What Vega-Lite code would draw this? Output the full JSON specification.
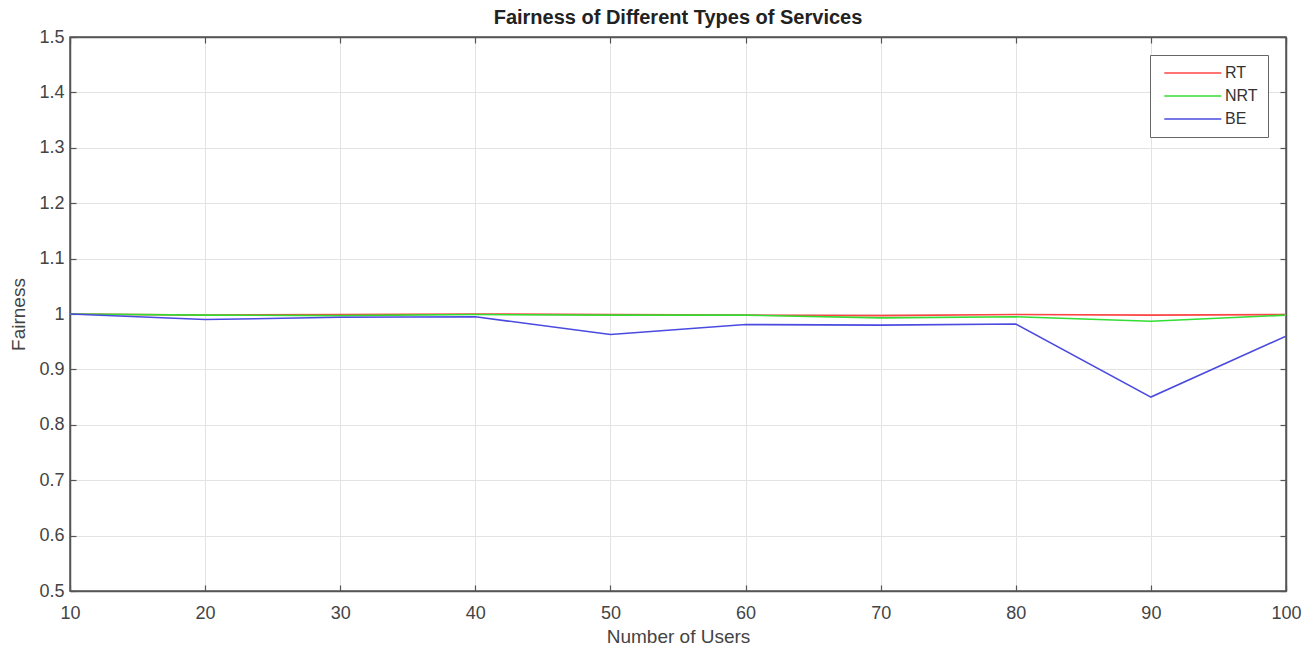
{
  "$schema": "https://vega.github.io/schema/vega-lite/v6.json",
  "autosize": {"type": "none"},
  "padding": {"left": 70, "top": 37, "right": 26, "bottom": 58},
  "width": 1216,
  "height": 554,
  "background": "white",
  "title": {"text": "Fairness of Different Types of Services", "font": "Liberation Sans", "fontSize": 20, "fontWeight": "bold", "color": "#222", "offset": 0, "dy": 20, "baseline": "bottom", "anchor": "middle"},
  "config": {
    "view": {"stroke": "#555", "strokeWidth": 1.5},
    "font": "Liberation Sans",
    "axis": {"labelFont": "Liberation Sans", "titleFont": "Liberation Sans", "labelFontSize": 18, "titleFontSize": 19, "labelColor": "#444", "titleColor": "#444", "titleFontWeight": "normal", "domainColor": "#555", "domainWidth": 1.5, "tickColor": "#555", "tickSize": -6, "tickWidth": 1.2, "gridColor": "#e3e3e3", "gridWidth": 1, "labelFlush": false}
  },
  "data": {"values": [
    {"users": 10, "series": "RT", "fairness": 1.0},
    {"users": 20, "series": "RT", "fairness": 0.998},
    {"users": 30, "series": "RT", "fairness": 0.999},
    {"users": 40, "series": "RT", "fairness": 1.0},
    {"users": 50, "series": "RT", "fairness": 0.999},
    {"users": 60, "series": "RT", "fairness": 0.998},
    {"users": 70, "series": "RT", "fairness": 0.997},
    {"users": 80, "series": "RT", "fairness": 0.999},
    {"users": 90, "series": "RT", "fairness": 0.998},
    {"users": 100, "series": "RT", "fairness": 0.999},
    {"users": 10, "series": "NRT", "fairness": 1.0},
    {"users": 20, "series": "NRT", "fairness": 0.998},
    {"users": 30, "series": "NRT", "fairness": 0.997},
    {"users": 40, "series": "NRT", "fairness": 0.999},
    {"users": 50, "series": "NRT", "fairness": 0.998},
    {"users": 60, "series": "NRT", "fairness": 0.998},
    {"users": 70, "series": "NRT", "fairness": 0.993},
    {"users": 80, "series": "NRT", "fairness": 0.995},
    {"users": 90, "series": "NRT", "fairness": 0.987},
    {"users": 100, "series": "NRT", "fairness": 0.998},
    {"users": 10, "series": "BE", "fairness": 1.0},
    {"users": 20, "series": "BE", "fairness": 0.99},
    {"users": 30, "series": "BE", "fairness": 0.994},
    {"users": 40, "series": "BE", "fairness": 0.995},
    {"users": 50, "series": "BE", "fairness": 0.963},
    {"users": 60, "series": "BE", "fairness": 0.981},
    {"users": 70, "series": "BE", "fairness": 0.98},
    {"users": 80, "series": "BE", "fairness": 0.982},
    {"users": 90, "series": "BE", "fairness": 0.85},
    {"users": 100, "series": "BE", "fairness": 0.96}
  ]},
  "layer": [
    {
      "mark": {"type": "line", "strokeWidth": 1.6, "clip": true},
      "encoding": {
        "x": {"field": "users", "type": "quantitative", "scale": {"domain": [10, 100], "nice": false, "zero": false},
          "axis": {"values": [10, 20, 30, 40, 50, 60, 70, 80, 90, 100], "title": "Number of Users", "grid": true, "labelPadding": 19, "titlePadding": 5}},
        "y": {"field": "fairness", "type": "quantitative", "scale": {"domain": [0.5, 1.5], "nice": false, "zero": false},
          "axis": {"values": [0.5, 0.6, 0.7, 0.8, 0.9, 1.0, 1.1, 1.2, 1.3, 1.4, 1.5], "format": ".1~f", "title": "Fairness", "grid": true, "labelPadding": 12, "titlePadding": 10}},
        "color": {"field": "series", "type": "nominal", "sort": ["RT", "NRT", "BE"],
          "scale": {"domain": ["RT", "NRT", "BE"], "range": ["#ff4444", "#33dd33", "#4a4ae0"]},
          "legend": {"title": null, "orient": "top-right", "offsetX": 18, "offsetY": 20, "symbolType": "M-0.65,0H9.35", "symbolSize": 130, "symbolStrokeWidth": 1.5, "labelFontSize": 16, "labelColor": "#333", "strokeColor": "#666", "fillColor": "white", "padding": 10, "rowPadding": 7, "labelOffset": 49}}
      }
    },
    {
      "mark": {"type": "line", "opacity": 0},
      "encoding": {
        "x": {"field": "users", "type": "quantitative", "scale": {"domain": [10, 100], "nice": false, "zero": false},
          "axis": {"orient": "top", "values": [10, 20, 30, 40, 50, 60, 70, 80, 90, 100], "labels": false, "title": null, "grid": false}},
        "y": {"field": "fairness", "type": "quantitative", "scale": {"domain": [0.5, 1.5], "nice": false, "zero": false},
          "axis": {"orient": "right", "values": [0.5, 0.6, 0.7, 0.8, 0.9, 1.0, 1.1, 1.2, 1.3, 1.4, 1.5], "labels": false, "title": null, "grid": false}},
        "detail": {"field": "series", "type": "nominal"}
      }
    }
  ],
  "resolve": {"axis": {"x": "independent", "y": "independent"}}
}
